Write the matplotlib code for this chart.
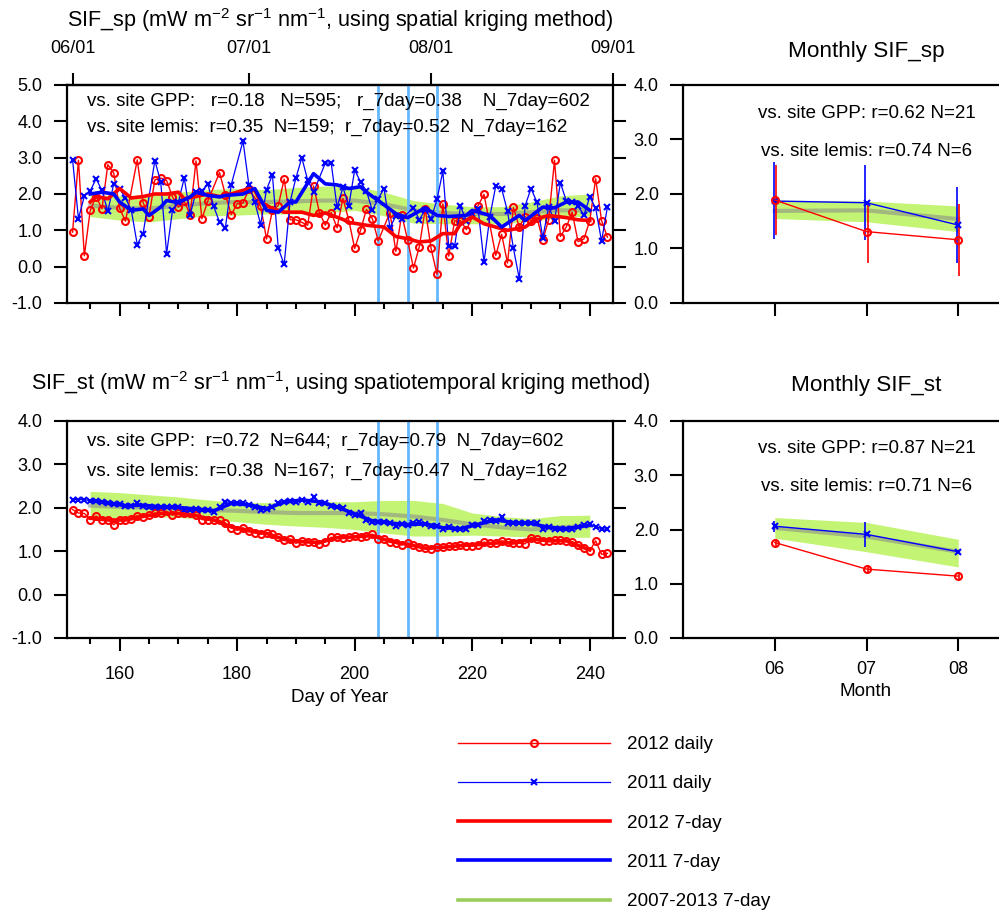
import numpy as np
import matplotlib.pyplot as plt
from matplotlib.lines import Line2D

plt.rcParams['font.family'] = ['Liberation Sans', 'DejaVu Sans']
plt.rcParams['axes.unicode_minus'] = False

# ---- daily SIF_sp (spatial kriging), DOY 152..243, nan = no data
doy = np.arange(152, 244)
nan = np.nan
red_sp = [0.95, 2.93, 0.30, 1.55, 1.93, 1.59, 2.81, 2.58, 1.61, 1.25,
          nan, 2.94, 1.76, 1.38, 2.39, 2.44, 2.37, 1.92, 1.64, 1.80,
          1.43, 2.91, 1.32, 1.80, nan, 2.59, 1.98, 1.43, 1.73, 1.75,
          2.13, nan, 1.66, 0.76, 1.55, 1.68, 2.41, 1.29, 1.29, 1.22,
          1.14, 2.22, 1.49, 1.14, 1.49, 1.07, 1.88, 1.28, 0.50, 1.00,
          1.58, 1.32, 0.71, nan, 1.49, 0.42, 1.43, 0.74, -0.04, 0.55,
          1.59, 0.50, -0.21, 1.73, 0.29, 1.26, 1.27, 1.02, nan, 1.68,
          1.99, nan, 0.31, 0.89, 0.10, 1.63, 1.09, 1.38, 1.27, 1.35,
          0.74, 1.29, 2.93, 0.83, 1.09, 1.50, 0.69, 0.76, 1.27, 2.42,
          1.27, 0.81]
blue_sp = [2.94, 1.32, 1.94, 2.08, 2.42, 2.10, 1.52, 2.28, 2.15, 1.89,
           1.55, 0.61, 0.91, nan, 2.92, 2.33, 0.36, 1.55, 1.78, 2.44,
           1.43, 2.05, 2.07, 2.28, 1.66, 1.23, 1.07, 2.26, nan, 3.46,
           2.24, 1.78, 1.16, 2.12, 2.53, 0.51, 0.06, 1.78, 2.44, 3.00,
           2.38, 2.05, nan, 2.85, 2.85, 1.64, 2.18, 1.68, 2.66, 2.33,
           2.08, 1.55, 1.87, 2.15, 1.07, 1.40, 1.32, nan, 1.62, 1.29,
           1.57, 1.32, 1.85, 2.63, 0.56, 0.56, 1.66, 1.27, 1.46, 1.59,
           0.12, 1.38, 2.22, 2.15, 1.52, 0.51, -0.33, 1.68, 2.15, 1.78,
           0.80, 1.64, 1.27, 2.31, 1.81, 1.78, 1.67, 1.42, 1.92, 1.61,
           0.70, 1.64]

# 7-day running values
red7_sp_doy = [155, 156, 158, 160, 162, 164, 166, 168, 170, 171, 173, 175, 177, 179, 182,
               183, 184, 186, 188, 191, 193, 195, 198, 199, 202, 205, 207, 209, 211, 213,
               215, 217, 218, 220, 222, 224, 226, 229, 231, 233, 236, 238, 240]
red7_sp = [1.78, 1.93, 1.87, 2.15, 1.89, 1.93, 2.00, 2.00, 2.05, 1.87, 1.93, 2.00, 1.93, 2.00, 2.15,
           2.10, 1.78, 1.60, 1.50, 1.50, 1.41, 1.48, 1.30, 1.22, 1.14, 1.09, 0.83, 0.77, 0.68, 0.71,
           0.91, 0.91, 1.18, 1.37, 1.18, 1.09, 1.00, 1.09, 1.32, 1.41, 1.35, 1.29, 1.27]
blue7_sp_doy = [155, 157, 159, 160, 162, 164, 165, 167, 168, 170, 172, 173, 175, 177, 178,
                181, 183, 185, 187, 189, 190, 193, 195, 197, 199, 201, 202, 204, 207, 209,
                212, 214, 216, 219, 220, 223, 225, 228, 229, 232, 234, 236, 238, 240]
blue7_sp = [2.00, 2.05, 2.00, 1.78, 1.55, 1.59, 1.41, 1.64, 1.82, 1.76, 1.92, 2.05, 1.96, 1.92, 1.96,
            2.00, 2.15, 1.55, 1.50, 1.78, 1.78, 2.56, 2.28, 2.25, 2.15, 2.20, 2.05, 1.82, 1.46, 1.35,
            1.62, 1.41, 1.38, 1.41, 1.55, 1.41, 1.09, 1.41, 1.27, 1.64, 1.62, 1.78, 1.78, 1.55]

# 2007-2013 climatology (mean, low, high)
clim_doy = [155, 160, 165, 170, 175, 180, 185, 190, 195, 200, 205, 210, 215, 220, 225, 230, 235, 240]
clim_sp = [1.68, 1.62, 1.60, 1.68, 1.75, 1.78, 1.78, 1.80, 1.82, 1.82, 1.72, 1.55, 1.48, 1.45, 1.45, 1.50, 1.55, 1.55]
clim_sp_lo = [1.38, 1.28, 1.23, 1.32, 1.40, 1.42, 1.45, 1.45, 1.48, 1.55, 1.40, 1.20, 1.18, 1.18, 1.18, 1.25, 1.35, 1.40]
clim_sp_hi = [1.98, 1.95, 1.98, 2.05, 2.12, 2.15, 2.12, 2.18, 2.22, 2.22, 2.05, 1.82, 1.72, 1.65, 1.65, 1.78, 1.95, 2.00]

# ---- daily SIF_st (spatiotemporal kriging), DOY 152..243
red_st = [1.96, 1.88, 1.87, 1.73, 1.81, 1.73, 1.73, 1.61, 1.71, 1.73,
          1.75, 1.82, 1.78, 1.83, 1.88, 1.88, 1.92, 1.83, 1.87, 1.88,
          1.87, 1.83, 1.73, 1.71, 1.71, 1.71, 1.65, 1.54, 1.48, 1.54,
          1.47, 1.42, 1.39, 1.42, 1.39, 1.32, 1.25, 1.27, 1.18, 1.24,
          1.22, 1.22, 1.17, 1.22, 1.32, 1.32, 1.31, 1.32, 1.34, 1.33,
          1.35, 1.39, 1.29, 1.29, 1.21, 1.18, 1.14, 1.18, 1.14, 1.09,
          1.07, 1.04, 1.09, 1.09, 1.12, 1.12, 1.14, 1.12, 1.12, 1.14,
          1.21, 1.18, 1.18, 1.24, 1.22, 1.18, 1.18, 1.17, 1.31, 1.29,
          1.24, 1.24, 1.25, 1.25, 1.24, 1.22, 1.14, 1.07, 1.01, 1.24,
          0.93, 0.95]
blue_st = [2.19, 2.19, 2.19, 2.16, 2.16, 2.13, 2.12, 2.08, 2.08, 2.05,
           2.05, 2.10, 2.05, 2.01, 2.02, 2.02, 2.01, 2.01, 2.01, 1.96,
           1.95, 1.98, 1.96, 1.95, 1.90, 2.02, 2.14, 2.12, 2.12, 2.12,
           2.06, 2.02, 1.96, 1.97, 2.02, 2.10, 2.14, 2.16, 2.14, 2.19,
           2.14, 2.24, 2.12, 2.12, 2.05, 2.02, 1.99, 1.89, 1.84, 1.87,
           1.73, 1.68, 1.68, 1.68, 1.65, 1.58, 1.62, 1.60, 1.64, 1.68,
           1.62, 1.58, 1.58, 1.52, 1.56, 1.52, 1.52, 1.52, 1.60, 1.60,
           1.70, 1.71, 1.70, 1.78, 1.65, 1.65, 1.64, 1.65, 1.64, 1.65,
           1.52, 1.56, 1.52, 1.52, 1.52, 1.52, 1.56, 1.60, 1.62, 1.56,
           1.52, 1.50]

st7_doy = [155, 158, 161, 164, 167, 170, 173, 176, 179, 182, 185, 188, 191, 194, 197,
           200, 203, 206, 209, 212, 215, 218, 221, 224, 227, 230, 233, 236, 239, 240]
red7_st = [1.76, 1.72, 1.72, 1.80, 1.87, 1.87, 1.82, 1.72, 1.56, 1.47, 1.41, 1.27, 1.22, 1.20, 1.31,
           1.33, 1.36, 1.23, 1.16, 1.07, 1.09, 1.13, 1.15, 1.19, 1.19, 1.28, 1.24, 1.24, 1.08, 1.03]
blue7_st = [2.16, 2.12, 2.05, 2.06, 2.02, 2.01, 1.97, 1.93, 2.10, 2.07, 1.98, 2.13, 2.18, 2.14, 2.02,
            1.86, 1.70, 1.65, 1.61, 1.63, 1.54, 1.52, 1.62, 1.72, 1.66, 1.64, 1.55, 1.52, 1.58, 1.60]

clim_st = [2.05, 2.02, 2.00, 1.98, 1.95, 1.93, 1.90, 1.88, 1.88, 1.88, 1.85, 1.80, 1.72, 1.62, 1.55, 1.50, 1.55, 1.58]
clim_st_lo = [1.75, 1.78, 1.80, 1.78, 1.72, 1.68, 1.62, 1.58, 1.55, 1.50, 1.42, 1.35, 1.35, 1.37, 1.35, 1.33, 1.32, 1.32]
clim_st_hi = [2.38, 2.35, 2.30, 2.25, 2.18, 2.12, 2.12, 2.12, 2.14, 2.14, 2.17, 2.17, 2.10, 1.88, 1.80, 1.75, 1.82, 1.83]

# ---- monthly means with error bars
months = [6, 7, 8]
m_red_sp = [1.89, 1.31, 1.16]
m_red_sp_lo = [1.25, 0.73, 0.50]
m_red_sp_hi = [2.53, 1.86, 1.82]
m_blue_sp = [1.87, 1.84, 1.43]
m_blue_sp_lo = [1.17, 1.16, 0.74]
m_blue_sp_hi = [2.58, 2.54, 2.12]
m_clim_sp = [1.69, 1.70, 1.54]
m_clim_sp_lo = [1.55, 1.49, 1.31]
m_clim_sp_hi = [1.89, 1.87, 1.78]

m_red_st = [1.76, 1.27, 1.14]
m_red_st_lo = [1.70, 1.20, 1.07]
m_red_st_hi = [1.82, 1.34, 1.21]
m_blue_st = [2.06, 1.91, 1.59]
m_blue_st_lo = [1.96, 1.68, 1.56]
m_blue_st_hi = [2.16, 2.13, 1.62]
m_clim_st = [2.03, 1.87, 1.59]
m_clim_st_lo = [1.84, 1.59, 1.31]
m_clim_st_hi = [2.22, 2.13, 1.82]

flux_days = [204, 209, 214]
month_doy = [152, 182, 213, 244]
month_lab = ['06/01', '07/01', '08/01', '09/01']

RED = '#ff0000'
BLUE = '#0000ff'
BAND = '#c4f474'
FS = 13        # tick labels
FT = 13.5      # annotations
FL = 13.6      # axis labels / legend

W, H = 999, 910
fig = plt.figure(figsize=(W / 100, H / 100), dpi=100)


def box(l, t, r, b):
    return [l / W, 1 - b / H, (r - l) / W, (b - t) / H]


def style(ax):
    for s in ax.spines.values():
        s.set_linewidth(1.6)
    ax.tick_params(which='both', direction='out', width=1.5, labelsize=FS)
    ax.tick_params(which='major', length=9.5, pad=8)
    ax.tick_params(which='minor', length=4.5)
    ax.tick_params(axis='y', right=True, pad=8)


def daily_panel(ax, red, blue, r7x, r7, b7x, b7, cm, clo, chi, ylim):
    ax.fill_between(clim_doy, clo, chi, color=BAND, lw=0, zorder=1)
    ax.plot(clim_doy, cm, color='#888888', alpha=0.55, lw=3, zorder=2)
    for d in flux_days:
        ax.axvline(d, color='#66b8ff', lw=2, zorder=2.5)
    red = np.array(red)
    blue = np.array(blue)
    mr = np.isfinite(red)
    mb = np.isfinite(blue)
    lr, = ax.plot(doy[mr], red[mr], color=RED, lw=1, marker='o', ms=5, mfc='none',
                  mec=RED, mew=1.5, zorder=3)
    lb, = ax.plot(doy[mb], blue[mb], color=BLUE, lw=0.9, marker='x', ms=5, mew=1.5, zorder=3)
    l7r, = ax.plot(r7x, r7, color=RED, lw=2.6, zorder=4)
    l7b, = ax.plot(b7x, b7, color=BLUE, lw=2.6, zorder=4)
    ax.set_xlim(151, 244)
    ax.set_ylim(*ylim)
    ax.set_xticks(range(160, 241, 20))
    ax.set_xticks(range(155, 244, 5), minor=True)
    ax.set_yticks(np.arange(ylim[0], ylim[1] + 0.1, 1.0))
    ax.yaxis.set_major_formatter('{x:.1f}')
    style(ax)
    ax.tick_params(axis='y', which='minor', left=False, right=False)
    return lr, lb, l7r, l7b


def monthly_panel(ax, r, rlo, rhi, b, blo, bhi, cm, clo, chi):
    ax.fill_between(months, clo, chi, color=BAND, lw=0, zorder=1)
    ax.plot(months, cm, color='#888888', alpha=0.55, lw=3, zorder=2)
    ax.vlines(np.array(months) - 0.012, blo, bhi, color=BLUE, lw=1.2, zorder=3)
    ax.vlines(np.array(months) + 0.012, rlo, rhi, color=RED, lw=1.2, zorder=3)
    ax.plot(months, b, color=BLUE, lw=1, marker='x', ms=5, mew=1.5, zorder=4)
    ax.plot(months, r, color=RED, lw=1, marker='o', ms=5, mfc='none', mec=RED,
            mew=1.5, zorder=4)
    ax.set_xlim(5, 9)
    ax.set_ylim(0, 4)
    ax.set_xticks(months)
    ax.set_yticks(np.arange(0, 4.1, 1.0))
    ax.yaxis.set_major_formatter('{x:.1f}')
    style(ax)


# top-left
ax1 = fig.add_axes(box(66.7, 85, 613.3, 303))
handles = daily_panel(ax1, red_sp, blue_sp, red7_sp_doy, red7_sp, blue7_sp_doy, blue7_sp,
                      clim_sp, clim_sp_lo, clim_sp_hi, (-1, 5))
ax1.set_xticklabels([])
sec = ax1.secondary_xaxis('top')
sec.set_xticks(month_doy, labels=month_lab)
sec.tick_params(direction='out', length=9, width=1.5, labelsize=FS, pad=11)
sec.spines['top'].set_linewidth(1.6)
ax1.text(0.037, 0.927, 'vs. site GPP:   r=0.18   N=595;   r_7day=0.38    N_7day=602',
         transform=ax1.transAxes, fontsize=FT, va='center')
ax1.text(0.037, 0.807, 'vs. site lemis:  r=0.35  N=159;  r_7day=0.52  N_7day=162',
         transform=ax1.transAxes, fontsize=FT, va='center')

# bottom-left
ax2 = fig.add_axes(box(66.7, 421, 613.3, 638))
daily_panel(ax2, red_st, blue_st, st7_doy, red7_st, st7_doy, blue7_st,
            clim_st, clim_st_lo, clim_st_hi, (-1, 4))
ax2.tick_params(axis='x', pad=11)
ax2.text(0.037, 0.908, 'vs. site GPP:  r=0.72  N=644;  r_7day=0.79  N_7day=602',
         transform=ax2.transAxes, fontsize=FT, va='center')
ax2.text(0.037, 0.770, 'vs. site lemis:  r=0.38  N=167;  r_7day=0.47  N_7day=162',
         transform=ax2.transAxes, fontsize=FT, va='center')

# top-right
ax3 = fig.add_axes(box(683, 85, 1050, 303))
monthly_panel(ax3, m_red_sp, m_red_sp_lo, m_red_sp_hi, m_blue_sp, m_blue_sp_lo, m_blue_sp_hi,
              m_clim_sp, m_clim_sp_lo, m_clim_sp_hi)
ax3.set_xticklabels([])
ax3.text(0.5, 0.867, 'vs. site GPP: r=0.62 N=21', transform=ax3.transAxes,
         fontsize=FT, ha='center', va='center')
ax3.text(0.5, 0.693, 'vs. site lemis: r=0.74 N=6', transform=ax3.transAxes,
         fontsize=FT, ha='center', va='center')

# bottom-right
ax4 = fig.add_axes(box(683, 421, 1050, 638))
monthly_panel(ax4, m_red_st, m_red_st_lo, m_red_st_hi, m_blue_st, m_blue_st_lo, m_blue_st_hi,
              m_clim_st, m_clim_st_lo, m_clim_st_hi)
ax4.set_xticklabels(['06', '07', '08'])
ax4.tick_params(axis='x', pad=7)
ax4.text(0.5, 0.871, 'vs. site GPP: r=0.87 N=21', transform=ax4.transAxes,
         fontsize=FT, ha='center', va='center')
ax4.text(0.5, 0.700, 'vs. site lemis: r=0.71 N=6', transform=ax4.transAxes,
         fontsize=FT, ha='center', va='center')

# titles and axis labels
fig.text(340 / W, 1 - 20 / H,
         r'SIF_sp (mW m$^{\mathregular{-2}}$ sr$^{\mathregular{-1}}$ nm$^{\mathregular{-1}}$, using spatial kriging method)',
         fontsize=15.6, ha='center', va='center')
fig.text(341 / W, 1 - 383 / H,
         r'SIF_st (mW m$^{\mathregular{-2}}$ sr$^{\mathregular{-1}}$ nm$^{\mathregular{-1}}$, using spatiotemporal kriging method)',
         fontsize=15.6, ha='center', va='center')
fig.text(866 / W, 1 - 52 / H, 'Monthly SIF_sp', fontsize=16.2, ha='center', va='center')
fig.text(866 / W, 1 - 386 / H, 'Monthly SIF_st', fontsize=16.2, ha='center', va='center')
fig.text(340 / W, 1 - 698 / H, 'Day of Year', fontsize=FL, ha='center', va='center')
fig.text(866 / W, 1 - 692 / H, 'Month', fontsize=FL, ha='center', va='center')

# legend
lr, lb, l7r, l7b = handles
green = Line2D([], [], color='#9acd5a', lw=2.6)
fig.legend([lr, lb, l7r, l7b, green],
           ['2012 daily', '2011 daily', '2012 7-day', '2011 7-day', '2007-2013 7-day'],
           loc='upper left', bbox_to_anchor=(458 / W, 1 - 736 / H), frameon=False,
           fontsize=FL, numpoints=1, handlelength=8.05, handletextpad=0.9,
           labelspacing=1.165, borderpad=0, borderaxespad=0)

fig.savefig('out.png', dpi=100)
